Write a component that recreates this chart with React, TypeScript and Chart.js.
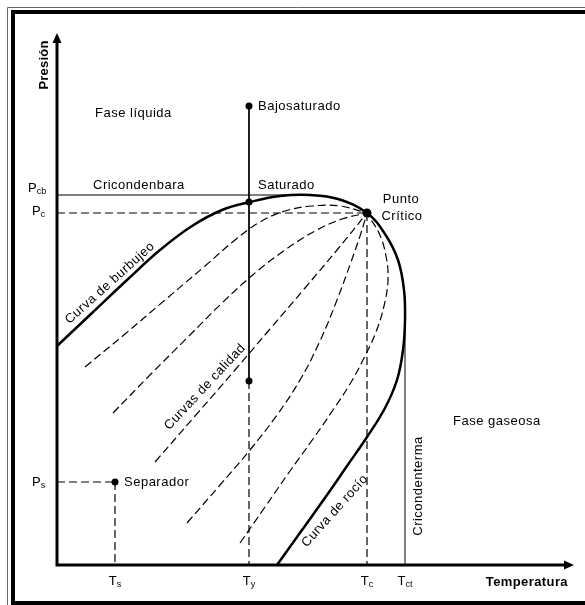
import { useEffect, useRef } from "react";
import { Chart, registerables } from "chart.js";

Chart.register(...registerables);

// Arbitrary units: T (temperature) and P (pressure)
const T_S = 58;
const T_Y = 192;
const T_C = 310;
const T_CT = 348;
const P_S = 83;
const P_C = 352;
const P_CB = 370;
const P_BAJO = 459;
const P_LOW = 184;
const P_SAT = 363;
const P_CT_TOP = 240;
const T_CB_END = 258;

// Phase envelope (bubble curve -> critical point -> dew curve)
const envelopeT = [0, 35, 70, 103, 135, 165, 193, 223, 253, 281, 310, 328, 341, 347, 348, 346, 340, 328, 310, 290, 270, 245, 220];
const envelopeP = [219, 252, 285, 315, 339, 355, 363, 369, 370, 366, 352, 331, 305, 275, 245, 215, 185, 157, 128, 99, 70, 35, 0];

// Quality curves (dashed), all ending at the critical point
const q1T = [28, 68, 108, 148, 178, 203, 228, 255, 283, 310];
const q1P = [198, 231, 265, 299, 325, 343, 354, 359, 359, 352];
const q2T = [56, 93, 131, 165, 198, 228, 258, 285, 310];
const q2P = [152, 190, 228, 262, 292, 315, 334, 346, 352];
const q3T = [98, 138, 178, 213, 248, 280, 310];
const q3P = [103, 149, 195, 236, 277, 315, 352];
const q4T = [130, 163, 193, 220, 243, 263, 280, 294, 304, 310];
const q4P = [42, 80, 115, 150, 185, 224, 265, 303, 332, 352];
const q5T = [183, 208, 233, 256, 276, 293, 307, 319, 327, 331, 329, 322, 310];
const q5P = [22, 58, 94, 126, 155, 181, 207, 233, 259, 285, 309, 332, 351];

const FONT = "Arial, 'Liberation Sans', sans-serif";

type Pt = { x: number; y: number };
const zip = (xs: number[], ys: number[]): Pt[] => xs.map((x, i) => ({ x, y: ys[i] }));

export default function App() {
  const ref = useRef<HTMLCanvasElement>(null);

  useEffect(() => {
    const canvas = ref.current;
    if (!canvas) return;

    const solid = (data: Pt[], w: number, tension: number) => ({
      data,
      showLine: true,
      borderColor: "#000",
      borderWidth: w,
      pointRadius: 0,
      tension,
      fill: false,
      clip: false as any,
    });
    const dashed = (data: Pt[], tension: number) => ({
      ...solid(data, 1.2, tension),
      borderDash: [8, 4],
    });

    const decor = {
      id: "decor",
      beforeDraw(chart: any) {
        const ctx = chart.ctx as CanvasRenderingContext2D;
        ctx.save();
        ctx.fillStyle = "#fff";
        ctx.fillRect(0, 0, chart.width, chart.height);
        // frame
        ctx.strokeStyle = "#666";
        ctx.lineWidth = 1;
        ctx.beginPath();
        ctx.moveTo(7.5, 605);
        ctx.lineTo(7.5, 7.5);
        ctx.lineTo(585, 7.5);
        ctx.stroke();
        ctx.fillStyle = "#000";
        ctx.fillRect(11, 10, 4, 595);
        ctx.fillRect(11, 10, 574, 4);
        ctx.fillRect(11, 601, 574, 4);
        ctx.restore();
      },
      afterDatasetsDraw(chart: any) {
        const ctx = chart.ctx as CanvasRenderingContext2D;
        const xs = chart.scales.x;
        const ys = chart.scales.y;
        const px = (v: number) => xs.getPixelForValue(v);
        const py = (v: number) => ys.getPixelForValue(v);
        const ca = chart.chartArea;
        ctx.save();
        // axes
        const ox = px(0);
        const oy = py(0);
        ctx.strokeStyle = "#000";
        ctx.fillStyle = "#000";
        ctx.lineWidth = 3;
        ctx.beginPath();
        ctx.moveTo(ox, oy + 1.5);
        ctx.lineTo(ox, ca.top + 8);
        ctx.moveTo(ox - 1.5, oy);
        ctx.lineTo(ca.right - 8, oy);
        ctx.stroke();
        ctx.beginPath();
        ctx.moveTo(ox, ca.top);
        ctx.lineTo(ox - 4.5, ca.top + 10);
        ctx.lineTo(ox + 4.5, ca.top + 10);
        ctx.closePath();
        ctx.fill();
        ctx.beginPath();
        ctx.moveTo(ca.right + 1, oy);
        ctx.lineTo(ca.right - 9, oy - 4.5);
        ctx.lineTo(ca.right - 9, oy + 4.5);
        ctx.closePath();
        ctx.fill();

        const setFont = (size: number, bold = false) => {
          ctx.font = `${bold ? "bold " : ""}${size}px ${FONT}`;
        };
        const text = (
          s: string,
          x: number,
          y: number,
          align: CanvasTextAlign = "left",
          size = 13,
          bold = false,
          rot = 0,
          spacing = "0.5px"
        ) => {
          ctx.save();
          setFont(size, bold);
          (ctx as any).letterSpacing = spacing;
          ctx.textAlign = align;
          ctx.textBaseline = "middle";
          ctx.translate(px(x), py(y));
          if (rot) ctx.rotate((rot * Math.PI) / 180);
          ctx.fillText(s, 0, 0);
          ctx.restore();
        };
        const subLabel = (main: string, sub: string, x: number, y: number, align: "left" | "center") => {
          ctx.save();
          (ctx as any).letterSpacing = "0px";
          ctx.textBaseline = "middle";
          ctx.textAlign = "left";
          setFont(13);
          const wm = ctx.measureText(main).width;
          setFont(9);
          const wsub = ctx.measureText(sub).width;
          let x0 = px(x);
          if (align === "center") x0 -= (wm + wsub) / 2;
          const y0 = py(y);
          setFont(13);
          ctx.fillText(main, x0, y0);
          setFont(9);
          ctx.fillText(sub, x0 + wm, y0 + 4);
          ctx.restore();
        };

        text("Presión", -13, 500, "center", 13, true, -90, "0.2px");
        text("Temperatura", 511, -17, "right", 13, true, 0, "0.4px");
        text("Fase líquida", 38, 452);
        text("Bajosaturado", 201, 459);
        text("Cricondenbara", 36, 380);
        text("Saturado", 201, 380);
        text("Punto", 344, 366, "center");
        text("Crítico", 345, 349, "center");
        text("Separador", 67, 83);
        text("Fase gaseosa", 396, 144);
        text("Cricondenterma", 361, 79, "center", 13, false, -90);
        text("Curva de burbujeo", 53, 282, "center", 13, false, -42);
        text("Curvas de calidad", 148, 178, "center", 13, false, -47);
        text("Curva de rocío", 278, 54, "center", 13, false, -48);

        subLabel("P", "cb", -29, 377, "left");
        subLabel("P", "c", -25, 354, "left");
        subLabel("P", "s", -25, 83, "left");
        subLabel("T", "s", T_S, -16, "center");
        subLabel("T", "y", T_Y, -16, "center");
        subLabel("T", "c", T_C, -16, "center");
        subLabel("T", "ct", T_CT, -16, "center");
        ctx.restore();
      },
    };

    const chart = new Chart(canvas, {
      type: "scatter",
      data: {
        datasets: [
          solid(zip(envelopeT, envelopeP), 2.5, 0.4),
          dashed(zip(q1T, q1P), 0.4),
          dashed(zip(q2T, q2P), 0.4),
          dashed(zip(q3T, q3P), 0.4),
          dashed(zip(q4T, q4P), 0.4),
          dashed(zip(q5T, q5P), 0.4),
          solid([{ x: 0, y: P_CB }, { x: T_CB_END, y: P_CB }], 1, 0),
          dashed([{ x: 0, y: P_C }, { x: T_C, y: P_C }], 0),
          solid([{ x: T_Y, y: P_BAJO }, { x: T_Y, y: P_LOW }], 1, 0),
          dashed([{ x: T_Y, y: P_LOW }, { x: T_Y, y: 0 }], 0),
          dashed([{ x: T_C, y: P_C }, { x: T_C, y: 0 }], 0),
          solid([{ x: T_CT, y: 0 }, { x: T_CT, y: P_CT_TOP }], 1, 0),
          dashed([{ x: 0, y: P_S }, { x: T_S, y: P_S }], 0),
          dashed([{ x: T_S, y: P_S }, { x: T_S, y: 0 }], 0),
          {
            data: [
              { x: T_Y, y: P_BAJO },
              { x: T_Y, y: P_SAT },
              { x: T_Y, y: P_LOW },
              { x: T_S, y: P_S },
            ],
            showLine: false,
            pointRadius: 3.5,
            pointBackgroundColor: "#000",
            pointBorderWidth: 0,
            clip: false as any,
          },
          {
            data: [{ x: T_C, y: P_C }],
            showLine: false,
            pointRadius: 4.5,
            pointBackgroundColor: "#000",
            pointBorderWidth: 0,
            clip: false as any,
          },
        ] as any,
      },
      options: {
        responsive: false,
        devicePixelRatio: 1,
        animation: false,
        layout: { padding: { left: 57, right: 12, top: 33, bottom: 40 } },
        scales: {
          x: { type: "linear", min: 0, max: 516, display: false },
          y: { type: "linear", min: 0, max: 532, display: false },
        },
        plugins: { legend: { display: false }, tooltip: { enabled: false } },
        events: [],
      },
      plugins: [decor],
    });

    return () => chart.destroy();
  }, []);

  return (
    <div style={{ position: "absolute", left: 0, top: 0, width: 585, height: 605, background: "#fff" }}>
      <canvas ref={ref} width={585} height={605} style={{ display: "block", width: 585, height: 605 }} />
    </div>
  );
}
